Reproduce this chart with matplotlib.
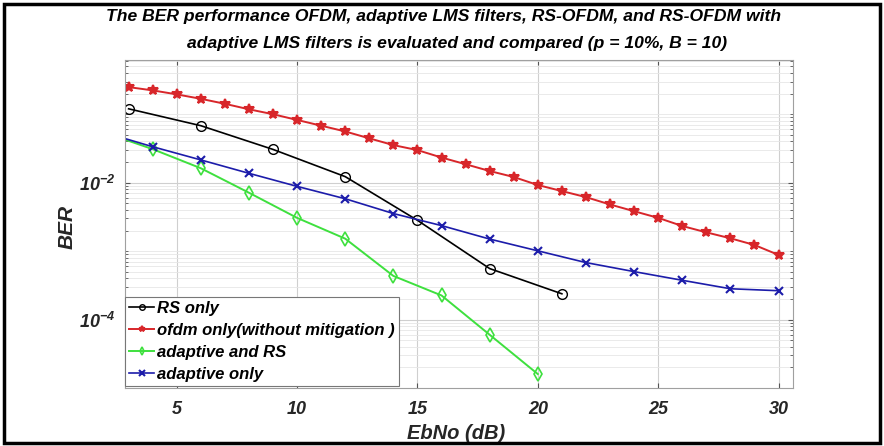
import matplotlib
matplotlib.use("Agg")
import matplotlib.pyplot as plt
from matplotlib.patches import Rectangle
from matplotlib.ticker import LogLocator, NullFormatter, FixedLocator

# EbNo points (dB)
ebno_ofdm = list(range(3, 31))
ebno_rs = [3, 6, 9, 12, 15, 18, 21]
ebno_adapt = [2, 4, 6, 8, 10, 12, 14, 16, 18, 20, 22, 24, 26, 28, 30]
ebno_adapt_rs = [2, 4, 6, 8, 10, 12, 14, 16, 18, 20]

# BER values
ber_ofdm = [0.249, 0.223, 0.195, 0.168, 0.142, 0.118, 0.100, 0.0825, 0.068, 0.056,
            0.0444, 0.0354, 0.0299, 0.0233, 0.0186, 0.0148, 0.0121, 0.00924, 0.00754,
            0.00615, 0.0048, 0.00383, 0.00306, 0.00233, 0.00188, 0.00154, 0.00123, 0.00088]
ber_rs = [0.120, 0.068, 0.0306, 0.01225, 0.00282, 0.000556, 0.000238]
ber_adapt = [0.054, 0.0335, 0.0215, 0.0137, 0.00883, 0.00582, 0.00354, 0.00236,
             0.0015, 0.00101, 0.00068, 0.000502, 0.000375, 0.000282, 0.000264]
ber_adapt_rs = [0.054, 0.0309, 0.01625, 0.00713, 0.00306, 0.00152, 0.000434,
                0.000225, 6.0e-5, 1.6e-5]

labels = ["RS only", "ofdm only(without mitigation )", "adaptive and RS", "adaptive only"]
title_lines = ["The BER performance OFDM, adaptive LMS filters, RS-OFDM, and RS-OFDM with",
               "adaptive LMS filters is evaluated and compared (p = 10%, B = 10)"]

fam = ["Liberation Sans", "DejaVu Sans"]
plt.rcParams["font.family"] = fam

fig = plt.figure(figsize=(8.84, 4.46), dpi=100)
ax = fig.add_axes([0.1414, 0.130, 0.7556, 0.7355])

ax.plot(ebno_rs, ber_rs, color="black", marker="o", mfc="none", ms=7, lw=1.2, label=labels[0])
ax.plot(ebno_ofdm, ber_ofdm, color="#d8262a", marker="*", ms=7, mew=1.5, lw=1.4, label=labels[1])
ax.plot(ebno_adapt_rs, ber_adapt_rs, color="#3ee03e", marker="d", mfc="none", ms=7, mew=1.2, lw=1.4, label=labels[2])
ax.plot(ebno_adapt, ber_adapt, color="#1c1caa", marker="x", ms=6, mew=1.5, lw=1.2, label=labels[3])

ax.set_yscale("log")
ax.set_xlim(2.85, 30.6)
ax.set_ylim(1e-5, 0.62)
ax.xaxis.set_major_locator(FixedLocator([5, 10, 15, 20, 25, 30]))
ax.yaxis.set_major_locator(FixedLocator([1e-4, 1e-2]))
ax.yaxis.set_minor_locator(LogLocator(base=10, subs=range(1, 10), numticks=20))
ax.yaxis.set_minor_formatter(NullFormatter())

ax.grid(True, which="major", color="#cfcfcf", lw=0.8)
ax.grid(True, which="minor", axis="y", color="#e6e6e6", lw=0.6)
ax.tick_params(which="both", direction="in", top=True, right=True, colors="#555555")
ax.tick_params(labelsize=13, labelcolor="#262626")
ax.tick_params(axis="x", pad=9)
ax.tick_params(axis="y", pad=7)
for lab in ax.get_xticklabels() + ax.get_yticklabels():
    lab.set_fontweight("bold")
    lab.set_fontstyle("italic")
for s in ax.spines.values():
    s.set_color("#a0a0a0")
    s.set_linewidth(0.8)

ax.set_xlabel("EbNo (dB)", fontsize=14.5, fontweight="bold", fontstyle="italic",
              color="#262626", va="center")
ax.xaxis.set_label_coords(0.496, -0.138)
ax.set_ylabel("BER", fontsize=15, fontweight="bold", fontstyle="italic", color="#262626")
ax.yaxis.set_label_coords(-0.072, 0.49)

fig.text(0.502, 0.962, title_lines[0], ha="center", va="center", fontsize=12.6,
         fontweight="bold", fontstyle="italic")
fig.text(0.517, 0.903, title_lines[1], ha="center", va="center", fontsize=12.6,
         fontweight="bold", fontstyle="italic")

leg = ax.legend(loc="lower left", bbox_to_anchor=(0, 0.005), borderaxespad=0,
                prop=dict(family=fam, size=12, weight="bold", style="italic"),
                handlelength=1.5, handletextpad=0.2, labelspacing=0.42,
                borderpad=0.25, fancybox=False, framealpha=1, edgecolor="#777777")
leg.get_frame().set_linewidth(0.8)
for h in leg.legend_handles:
    h.set_markersize(4)

fig.patches.append(Rectangle((0.004, 0.006), 0.992, 0.986, transform=fig.transFigure,
                             fill=False, edgecolor="black", lw=2.5))

fig.savefig("out.png", dpi=100)
